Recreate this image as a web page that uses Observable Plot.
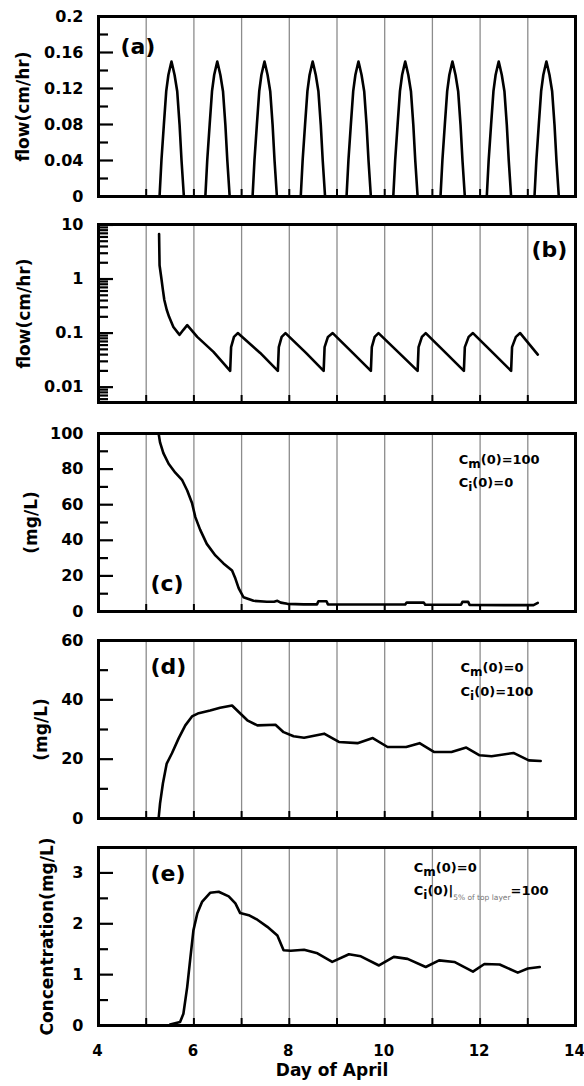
<!DOCTYPE html>
<html><head><meta charset="utf-8">
<script src="https://cdn.jsdelivr.net/npm/d3@7"></script>
<script src="https://cdn.jsdelivr.net/npm/@observablehq/plot@0.6"></script>
<style>
body{margin:0;background:#fff;}
#chart svg{display:block;}
</style></head><body><div id="chart"></div>
<script>
const FONT = "DejaVu Sans, Verdana, sans-serif";

// x axis
const dayLines = [5, 6, 7, 8, 9, 10, 11, 12, 13];
const xTickLabels = [4, 6, 8, 10, 12, 14];

// (a) daily flow pulses: peak days and the read pulse profile
const peakDays = [5.53, 6.49, 7.48, 8.49, 9.45, 10.43, 11.42, 12.39, 13.39];
const peakHeights = [0.15, 0.15, 0.15, 0.15, 0.15, 0.15, 0.15, 0.15, 0.15];
const pulseOffsets = [-0.25, -0.21, -0.16, -0.11, -0.065, -0.02, 0, 0.02, 0.065, 0.12, 0.17, 0.21, 0.26];
const pulseShape = [0, 0.27, 0.53, 0.78, 0.9, 0.97, 1, 0.97, 0.9, 0.78, 0.53, 0.27, 0];

// (b) flow, log scale
const flowB = [
  [5.27, 6.8], [5.28, 1.8], [5.32, 1.0], [5.35, 0.63], [5.38, 0.41], [5.43, 0.27], [5.48, 0.20], [5.57, 0.13],
  [5.67, 0.10], [5.70, 0.093], [5.78, 0.115], [5.86, 0.14], [6.07, 0.085], [6.41, 0.045], [6.76, 0.020],
  [6.78, 0.055], [6.84, 0.085], [6.92, 0.10], [7.39, 0.043], [7.76, 0.020],
  [7.78, 0.055], [7.84, 0.085], [7.92, 0.10], [8.35, 0.043], [8.72, 0.020],
  [8.74, 0.055], [8.81, 0.085], [8.91, 0.10], [9.33, 0.043], [9.71, 0.020],
  [9.73, 0.055], [9.79, 0.085], [9.87, 0.10], [10.30, 0.043], [10.69, 0.020],
  [10.71, 0.055], [10.78, 0.085], [10.86, 0.10], [11.28, 0.043], [11.66, 0.020],
  [11.68, 0.055], [11.76, 0.085], [11.85, 0.10], [12.27, 0.043], [12.65, 0.020],
  [12.67, 0.055], [12.75, 0.085], [12.84, 0.10], [13.21, 0.04]
];

// (c) Cm(0)=100, Ci(0)=0
const concC = [
  [5.26, 100], [5.29, 95], [5.36, 89], [5.47, 83], [5.61, 78], [5.75, 74], [5.86, 68], [5.96, 61],
  [6.03, 53], [6.13, 46], [6.27, 38], [6.45, 31.5], [6.62, 27], [6.80, 23], [6.87, 18.5], [6.94, 13],
  [7.04, 8], [7.25, 6], [7.53, 5.5], [7.68, 5.5], [7.75, 6], [7.82, 5], [7.96, 4.3], [8.3, 4.0],
  [8.58, 4.0], [8.61, 5.8], [8.78, 5.8], [8.81, 4.0], [9.5, 3.9], [10.0, 3.9], [10.43, 3.9],
  [10.46, 5.0], [10.82, 5.0], [10.85, 3.8], [11.6, 3.8], [11.63, 5.4], [11.75, 5.4], [11.78, 3.7],
  [12.5, 3.6], [13.12, 3.6], [13.21, 4.8]
];

// (d) Cm(0)=0, Ci(0)=100
const concD = [
  [5.26, 0], [5.29, 5], [5.35, 11.8], [5.43, 18.5], [5.54, 22], [5.68, 27], [5.82, 31.4], [5.96, 34.4],
  [6.10, 35.5], [6.34, 36.4], [6.55, 37.3], [6.80, 38.1], [6.94, 35.9], [7.12, 33.1], [7.33, 31.4],
  [7.71, 31.6], [7.88, 29.1], [8.09, 27.7], [8.31, 27.2], [8.73, 28.6], [9.04, 25.8], [9.43, 25.4],
  [9.75, 27.1], [10.06, 24.1], [10.45, 24.1], [10.73, 25.4], [11.04, 22.4], [11.40, 22.4],
  [11.71, 23.9], [11.99, 21.3], [12.24, 21.0], [12.70, 22.1], [13.02, 19.6], [13.27, 19.4]
];

// (e) Cm(0)=0, Ci(0) in 5% of top layer = 100
const concE = [
  [5.50, 0.02], [5.71, 0.07], [5.78, 0.23], [5.86, 0.76], [5.92, 1.28], [5.99, 1.87], [6.07, 2.2],
  [6.17, 2.43], [6.34, 2.61], [6.52, 2.63], [6.73, 2.54], [6.87, 2.4], [6.97, 2.21], [7.15, 2.17],
  [7.33, 2.08], [7.54, 1.94], [7.75, 1.77], [7.88, 1.48], [8.03, 1.47], [8.31, 1.49], [8.59, 1.42],
  [8.90, 1.25], [9.25, 1.40], [9.50, 1.36], [9.88, 1.18], [10.19, 1.35], [10.48, 1.31], [10.86, 1.15],
  [11.14, 1.28], [11.46, 1.25], [11.85, 1.06], [12.09, 1.21], [12.41, 1.20], [12.79, 1.04],
  [13.00, 1.12], [13.25, 1.15]
];

// y ticks
const ticksA = [0, 0.04, 0.08, 0.12, 0.16, 0.2];
const minorA = [0.02, 0.06, 0.1, 0.14, 0.18];
const ticksB = [0.01, 0.1, 1, 10];
const minorB = [0.006, 0.007, 0.008, 0.009,
  0.02, 0.03, 0.04, 0.05, 0.06, 0.07, 0.08, 0.09,
  0.2, 0.3, 0.4, 0.5, 0.6, 0.7, 0.8, 0.9,
  2, 3, 4, 5, 6, 7, 8, 9];
const ticksC = [0, 20, 40, 60, 80, 100];
const minorC = [10, 30, 50, 70, 90];
const ticksD = [0, 20, 40, 60];
const minorD = [10, 30, 50];
const ticksE = [0, 1, 2, 3];
const minorE = [0.5, 1.5, 2.5];

// build (a) series from the read pulses
const flowA = [];
peakDays.forEach((p, i) => {
  pulseOffsets.forEach((o, j) => flowA.push([p + o, pulseShape[j] * peakHeights[i]]));
});

function panel(cfg) {
  const marks = [
    Plot.ruleX(dayLines, {stroke: "#8c8c8c", strokeWidth: 1.3}),
    Plot.axisX(dayLines, {anchor: "bottom", tickSize: 7, dy: -7, tickFormat: () => "", label: null, strokeWidth: 2}),
    Plot.axisY(cfg.minor, {anchor: "left", tickSize: 10, dx: 10, tickFormat: () => "", label: null, strokeWidth: 2.2}),
    Plot.axisY(cfg.major, {anchor: "left", tickSize: 15, dx: 15, tickFormat: () => "", label: null, strokeWidth: 2.2}),
    Plot.axisY(cfg.major, {anchor: "left", tickSize: 0, tickPadding: 15, tickFormat: d => String(d), label: null, fontSize: 16}),
    Plot.line(cfg.series, {x: d => d[0], y: d => d[1], stroke: "black", strokeWidth: 2.6, strokeLinejoin: "round"}),
    Plot.frame({stroke: "black", strokeWidth: 3}),
    Plot.text([cfg.yLabel], {frameAnchor: "left", rotate: -90, dx: cfg.yLabelX - 98, fontSize: 17, textAnchor: "middle"}),
    Plot.text([cfg.tag], {x: d => d.x, y: d => d.y, text: d => d.text, textAnchor: cfg.tag.anchor, fontSize: 22})
  ];
  if (cfg.notes) {
    marks.push(Plot.text(cfg.notes, {x: d => d.x, y: d => d.y, text: d => d.text, textAnchor: "start", fontSize: 13}));
  }
  if (cfg.xLabels) {
    marks.push(Plot.axisX(xTickLabels, {anchor: "bottom", tickSize: 0, tickPadding: 20, dx: -1, tickFormat: d => String(d), label: null, fontSize: 15}));
    marks.push(Plot.text(["Day of April"], {frameAnchor: "bottom", dy: 50, dx: -5, fontSize: 17}));
  }
  const svg = Plot.plot({
    width: 584,
    height: cfg.height,
    marginLeft: 98,
    marginRight: 9,
    marginTop: cfg.mt,
    marginBottom: cfg.mb,
    style: {fontFamily: FONT, fontWeight: "bold", fontSize: "16px", overflow: "visible", background: "white"},
    x: {domain: [4, 14]},
    y: cfg.y,
    marks
  });
  richify(svg);
  return svg;
}

// subscripts: {..} normal subscript, [..] tiny subscript
function richify(svg) {
  d3.select(svg).selectAll("text").each(function() {
    const t = this.textContent;
    if (!/[{\[]/.test(t)) return;
    const sel = d3.select(this);
    const parts = t.split(/(\{[^}]*\}|\[[^\]]*\])/);
    this.textContent = "";
    let cur = 0;
    for (const p of parts) {
      if (!p) continue;
      let txt = p, shift = 0, size = null, fill = null, weight = null;
      if (p[0] === "{") { txt = p.slice(1, -1); shift = 4; size = "12px"; }
      else if (p[0] === "[") { txt = p.slice(1, -1); shift = 5; size = "7.5px"; fill = "#777"; weight = "normal"; }
      const ts = sel.append("tspan").text(txt).attr("dy", shift - cur);
      if (size) ts.attr("font-size", size);
      if (fill) ts.attr("fill", fill);
      if (weight) ts.attr("font-weight", weight);
      cur = shift;
    }
  });
}

const chart = document.getElementById("chart");
chart.append(panel({
  height: 210, mt: 16, mb: 14, y: {domain: [0, 0.2]}, series: flowA,
  major: ticksA, minor: minorA, yLabel: "flow(cm/hr)", yLabelX: 23,
  tag: {text: "(a)", x: 4.46, y: 0.1667, anchor: "start"}
}));
chart.append(panel({
  height: 208, mt: 14, mb: 16, y: {type: "log", domain: [0.0052, 10.2]}, series: flowB,
  major: ticksB, minor: minorB, yLabel: "flow(cm/hr)", yLabelX: 24,
  tag: {text: "(b)", x: 13.83, y: 3.38, anchor: "end"}
}));
chart.append(panel({
  height: 207, mt: 15, mb: 14, y: {domain: [0, 100]}, series: concC,
  major: ticksC, minor: minorC, yLabel: "(mg/L)", yLabelX: 31,
  tag: {text: "(c)", x: 5.09, y: 15.7, anchor: "start"},
  notes: [{text: "C{m}(0)=100", x: 11.55, y: 85.4}, {text: "C{i}(0)=0", x: 11.55, y: 72.2}]
}));
chart.append(panel({
  height: 208, mt: 15, mb: 15, y: {domain: [0, 60]}, series: concD,
  major: ticksD, minor: minorD, yLabel: "(mg/L)", yLabelX: 41,
  tag: {text: "(d)", x: 5.09, y: 51.2, anchor: "start"},
  notes: [{text: "C{m}(0)=0", x: 11.59, y: 50.7}, {text: "C{i}(0)=100", x: 11.59, y: 42.8}]
}));
chart.append(panel({
  height: 253, mt: 14, mb: 61, y: {domain: [0, 3.5]}, series: concE,
  major: ticksE, minor: minorE, yLabel: "Concentration(mg/L)", yLabelX: 47.5,
  tag: {text: "(e)", x: 5.09, y: 2.98, anchor: "start"},
  notes: [{text: "C{m}(0)=0", x: 10.61, y: 3.10}, {text: "C{i}(0)|[5% of top layer]=100", x: 10.61, y: 2.64}],
  xLabels: true
}));
</script></body></html>
